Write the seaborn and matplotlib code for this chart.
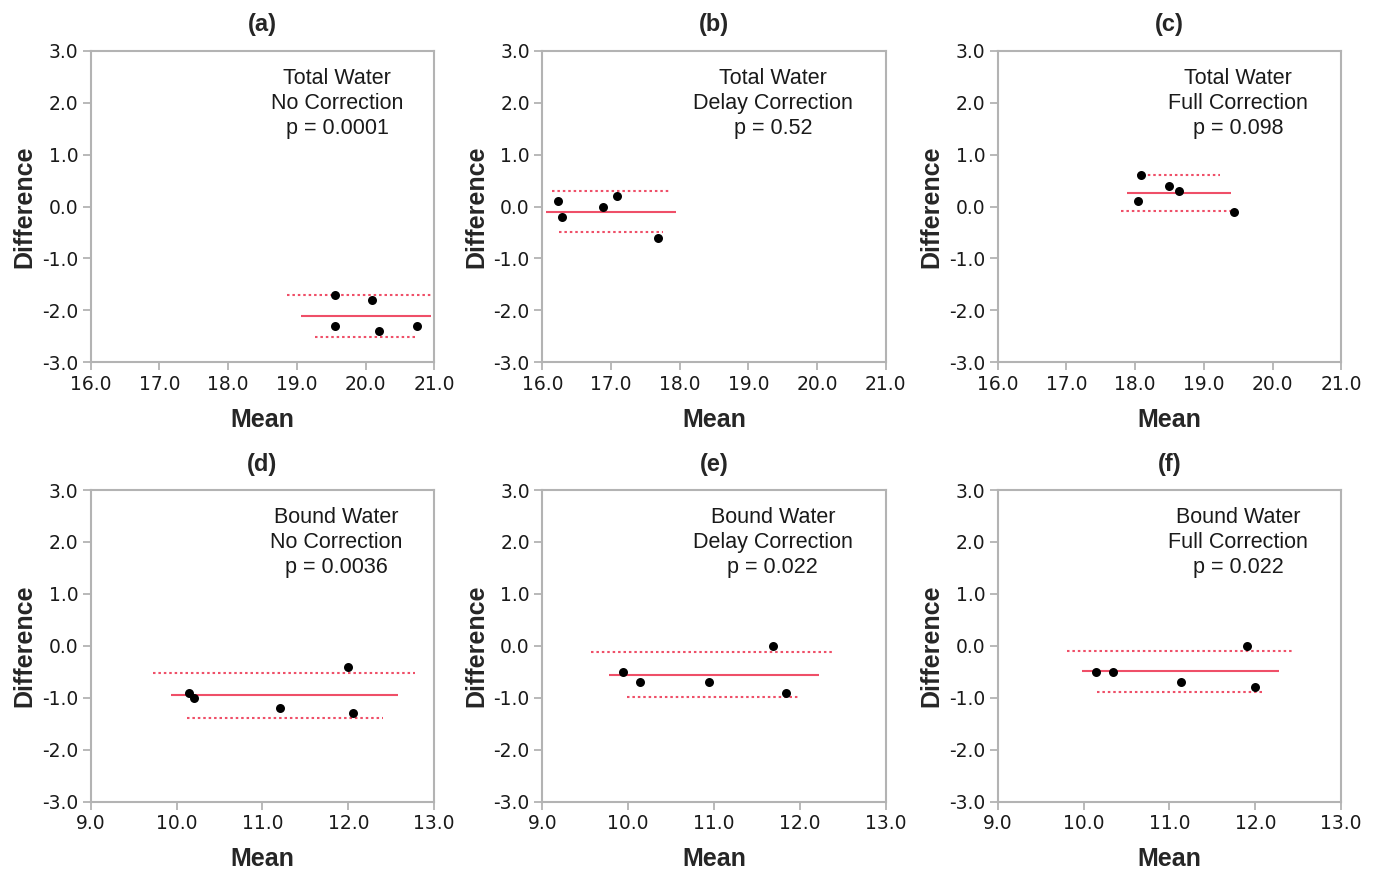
import matplotlib
matplotlib.use("Agg")
import matplotlib.pyplot as plt
import seaborn as sns
import pandas as pd

sns.set_theme(style="white")
plt.rcParams['font.family'] = ['Liberation Sans', 'DejaVu Sans']
plt.rcParams['xtick.bottom'] = True
plt.rcParams['ytick.left'] = True

# ---- data ----
panel_tags = ["(a)", "(b)", "(c)", "(d)", "(e)", "(f)"]
panel_texts = [
    "Total Water\nNo Correction\np = 0.0001",
    "Total Water\nDelay Correction\np = 0.52",
    "Total Water\nFull Correction\np = 0.098",
    "Bound Water\nNo Correction\np = 0.0036",
    "Bound Water\nDelay Correction\np = 0.022",
    "Bound Water\nFull Correction\np = 0.022",
]

mean_a = [19.55, 20.10, 19.55, 20.20, 20.75]
diff_a = [-1.7, -1.8, -2.3, -2.4, -2.3]
mean_b = [16.23, 16.28, 16.89, 17.09, 17.69]
diff_b = [0.1, -0.2, 0.0, 0.2, -0.6]
mean_c = [18.09, 18.50, 18.64, 18.04, 19.44]
diff_c = [0.6, 0.4, 0.3, 0.1, -0.1]
mean_d = [10.15, 10.20, 11.20, 12.00, 12.05]
diff_d = [-0.9, -1.0, -1.2, -0.4, -1.3]
mean_e = [9.94, 10.14, 10.94, 11.69, 11.84]
diff_e = [-0.5, -0.7, -0.7, 0.0, -0.9]
mean_f = [10.15, 10.34, 11.14, 11.90, 12.00]
diff_f = [-0.5, -0.5, -0.7, 0.0, -0.8]

# bias line: (level, x start, x end)
bias_a = (-2.10, 19.06, 20.96)
bias_b = (-0.10, 16.05, 17.94)
bias_c = (0.26, 17.88, 19.39)
bias_d = (-0.955, 9.93, 12.58)
bias_e = (-0.56, 9.78, 12.22)
bias_f = (-0.49, 9.98, 12.27)
# upper limit of agreement
upper_a = (-1.70, 18.86, 20.99)
upper_b = (0.29, 16.14, 17.86)
upper_c = (0.60, 18.03, 19.23)
upper_d = (-0.52, 9.73, 12.78)
upper_e = (-0.12, 9.57, 12.40)
upper_f = (-0.10, 9.81, 12.45)
# lower limit of agreement
lower_a = (-2.51, 19.27, 20.72)
lower_b = (-0.49, 16.25, 17.76)
lower_c = (-0.08, 17.79, 19.52)
lower_d = (-1.39, 10.12, 12.40)
lower_e = (-0.98, 9.99, 12.00)
lower_f = (-0.88, 10.16, 12.09)

x_ticks_total = [16.0, 17.0, 18.0, 19.0, 20.0, 21.0]
x_ticks_bound = [9.0, 10.0, 11.0, 12.0, 13.0]
y_ticks = [-3.0, -2.0, -1.0, 0.0, 1.0, 2.0, 3.0]

means = [mean_a, mean_b, mean_c, mean_d, mean_e, mean_f]
diffs = [diff_a, diff_b, diff_c, diff_d, diff_e, diff_f]
biases = [bias_a, bias_b, bias_c, bias_d, bias_e, bias_f]
uppers = [upper_a, upper_b, upper_c, upper_d, upper_e, upper_f]
lowers = [lower_a, lower_b, lower_c, lower_d, lower_e, lower_f]
text_x = [0.717, 0.671, 0.70, 0.714, 0.671, 0.70]

# ---- layout ----
W, H = 1373, 869
fig = plt.figure(figsize=(W / 100, H / 100), dpi=100)
lefts = [90.7, 542.3, 997.7]
tops = [50.7, 490.0]
aw, ah = 343.5, 311.6

red = "#ef4f68"
spine_col = "#b3b3b3"

for i in range(6):
    r, c = divmod(i, 3)
    ax = fig.add_axes([lefts[c] / W, 1 - (tops[r] + ah) / H, aw / W, ah / H])
    df = pd.DataFrame({"Mean": means[i], "Difference": diffs[i]})
    y0, x0, x1 = biases[i]
    ax.hlines(y0, x0, x1, color=red, lw=1.5, zorder=1)
    y0, x0, x1 = uppers[i]
    ax.hlines(y0, x0, x1, color=red, lw=1.5, linestyles=(0, (1.2, 1.4)), zorder=1)
    y0, x0, x1 = lowers[i]
    ax.hlines(y0, x0, x1, color=red, lw=1.5, linestyles=(0, (1.2, 1.4)), zorder=1)
    sns.scatterplot(data=df, x="Mean", y="Difference", ax=ax, color="black",
                    s=42, edgecolor="black", linewidth=0, zorder=3)

    xt = x_ticks_total if r == 0 else x_ticks_bound
    ax.set_xlim(xt[0], xt[-1])
    ax.set_ylim(-3.0, 3.0)
    ax.set_xticks(xt)
    ax.set_xticklabels([f"{v:.1f}" for v in xt], family=["DejaVu Sans"])
    ax.set_yticks(y_ticks)
    ax.set_yticklabels([f"{v:.1f}" for v in y_ticks], family=["DejaVu Sans"])
    ax.tick_params(axis="both", direction="out", length=6, width=1.3,
                   color=spine_col, labelsize=13.5, labelcolor="#1a1a1a", pad=3)
    for s in ax.spines.values():
        s.set_color(spine_col)
        s.set_linewidth(1.5)
    ax.set_xlabel("Mean", fontsize=18, fontweight="bold", labelpad=10)
    ax.set_ylabel("Difference", fontsize=18, fontweight="bold", labelpad=4)
    ax.set_title(panel_tags[i], fontsize=17, fontweight="bold", pad=14)
    ax.text(text_x[i], 0.945, panel_texts[i], transform=ax.transAxes,
            ha="center", va="top", fontsize=15.5, linespacing=1.24, color="#1a1a1a")

fig.savefig("out.png", dpi=100)
